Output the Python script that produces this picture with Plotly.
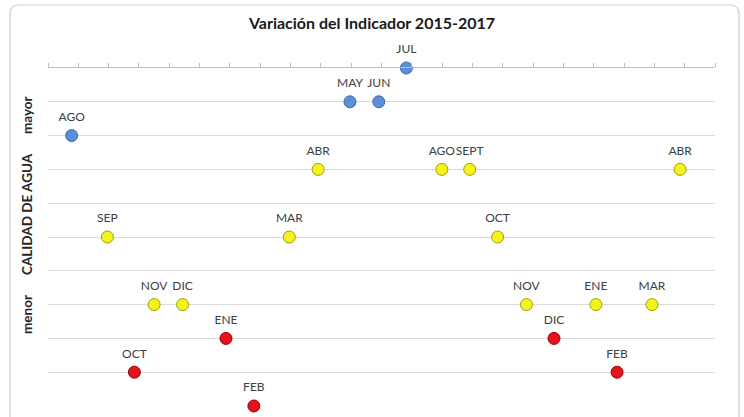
import plotly.graph_objects as go

# ---- data ----
blue_x = [0.78, 9.96, 10.91, 11.82]
blue_y = [8, 9, 9, 10]
blue_lbl = ["AGO", "MAY", "JUN", "JUL"]

yellow_x = [1.96, 3.50, 4.44, 7.96, 8.91, 12.99, 13.91, 14.83, 15.78, 18.07, 19.92, 20.85]
yellow_y = [5, 3, 3, 5, 7, 7, 7, 5, 3, 3, 3, 7]
yellow_lbl = ["SEP", "NOV", "DIC", "MAR", "ABR", "AGO", "SEPT", "OCT", "NOV", "ENE", "MAR", "ABR"]

red_x = [2.85, 5.87, 6.79, 16.69, 18.77]
red_y = [1, 2, 0, 2, 1]
red_lbl = ["OCT", "ENE", "FEB", "DIC", "FEB"]

x_ticks = list(range(0, 23))

W, H = 744, 417
L, R, T, B = 48, 29, 68, 11
PW, PH = W - L - R, H - T - B

FONT = "Lato"

fig = go.Figure()

def add_series(xs, ys, lbls, fill, line):
    # labels (invisible larger marker sets the label offset)
    fig.add_trace(go.Scatter(
        x=xs, y=ys, mode="markers+text", text=lbls, textposition="top center",
        textfont=dict(family=FONT, size=12, color="#404040"),
        marker=dict(size=17, color="rgba(0,0,0,0)"),
        cliponaxis=False, showlegend=False, hoverinfo="skip"))
    fig.add_trace(go.Scatter(
        x=xs, y=ys, mode="markers",
        marker=dict(size=12, color=fill, line=dict(color=line, width=1)),
        cliponaxis=False, showlegend=False, hoverinfo="skip"))

add_series(blue_x, blue_y, blue_lbl, "#5b8fd8", "#3b69a8")
add_series(yellow_x, yellow_y, yellow_lbl, "#f4f41c", "#9f9f00")
add_series(red_x, red_y, red_lbl, "#e3141b", "#9e0000")

def px2paper(px, py):
    return (px - L) / PW, (H - B - py) / PH

# rounded frame
fx0, fy0, fx1, fy1, r = 10, 5, 739, 440, 9
def P(px, py):
    x, y = px2paper(px, py)
    return f"{x:.5f},{y:.5f}"
path = (f"M {P(fx0, fy1)} L {P(fx0, fy0 + r)} Q {P(fx0, fy0)} {P(fx0 + r, fy0)} "
        f"L {P(fx1 - r, fy0)} Q {P(fx1, fy0)} {P(fx1, fy0 + r)} L {P(fx1, fy1)}")
fig.add_shape(type="path", path=path, xref="paper", yref="paper",
              line=dict(color="#cfcfcf", width=1.2), layer="below")

# y axis title pieces
for txt, py in [("mayor", 115), ("CALIDAD DE AGUA", 214), ("menor", 315)]:
    x, y = px2paper(27, py)
    fig.add_annotation(text=f"<b>{txt}</b>", x=x, y=y, xref="paper", yref="paper",
                       xanchor="center", yanchor="middle",
                       showarrow=False, textangle=-90,
                       font=dict(family=FONT, size=13.5, color="#262626"))

fig.update_layout(
    width=W, height=H,
    margin=dict(l=L, r=R, t=T, b=B),
    paper_bgcolor="white", plot_bgcolor="white",
    title=dict(text="<b>Variación del Indicador 2015-2017</b>", x=0.5, xanchor="center",
               y=1 - 23 / H, yanchor="middle",
               font=dict(family=FONT, size=16, color="#1a1a1a")),
    xaxis=dict(range=[0, 22], side="top", tickvals=x_ticks, showticklabels=False,
               ticks="outside", ticklen=4, tickcolor="#bfbfbf", showline=True,
               linecolor="#bfbfbf", linewidth=1, showgrid=False, zeroline=False,
               fixedrange=True),
    yaxis=dict(range=[0, 10], dtick=1, showticklabels=False, showgrid=True,
               gridcolor="#d9d9d9", gridwidth=1, zeroline=False, showline=False,
               fixedrange=True),
)

fig.write_html("out.html", config={"displayModeBar": False},
               post_script="document.body.style.margin='0';document.body.style.overflow='hidden';")
